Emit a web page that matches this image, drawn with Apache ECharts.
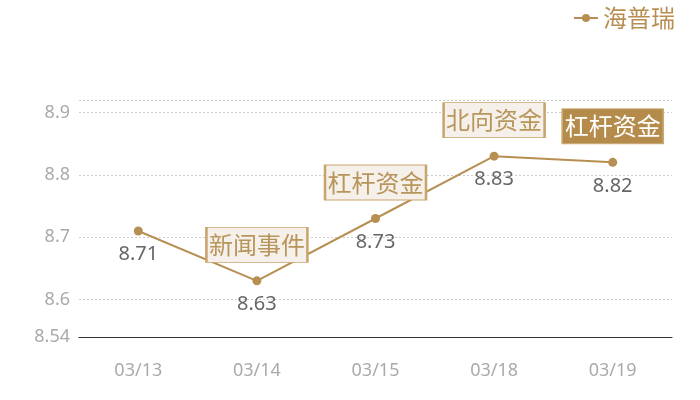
<!DOCTYPE html>
<html>
<head>
<meta charset="utf-8">
<script src="https://cdn.jsdelivr.net/npm/echarts@6/dist/echarts.min.js"></script>
<style>html,body{margin:0;padding:0;background:#fff}#c{width:700px;height:400px}</style>
</head>
<body>
<div id="c"></div>
<script>
const categories = ['03/13', '03/14', '03/15', '03/18', '03/19'];
const values = [8.71, 8.63, 8.73, 8.83, 8.82];
const annotations = ['', '新闻事件', '杠杆资金', '北向资金', '杠杆资金'];
const highlightIndex = 4;
const seriesName = '海普瑞';
const yMin = 8.54;
const yMax = 8.92;
const yTickLabels = [8.54, 8.6, 8.7, 8.8, 8.9];
const yGridValues = [8.6, 8.7, 8.8, 8.9, 8.92];

const gold = '#b88f52';
const font = '"Noto Sans", "Noto Sans CJK SC", sans-serif';
const cjkFont = '"Noto Sans CJK SC", "Noto Sans", sans-serif';

const markData = [];
annotations.forEach((txt, i) => {
  if (!txt) return;
  const hl = i === highlightIndex;
  markData.push({
    coord: [categories[i], values[i]],
    value: txt,
    itemStyle: hl ? { color: '#b58b4b', borderColor: '#c9a86f', borderWidth: 1 }
                  : { color: '#f5f0ea', borderColor: '#c9a46c', borderWidth: 1.5 },
    label: { color: hl ? '#ffffff' : '#b8955a' }
  });
});

const chart = echarts.init(document.getElementById('c'));
chart.setOption({
  backgroundColor: '#fff',
  animation: false,
  textStyle: { fontFamily: font },
  legend: {
    right: 20, top: 1,
    itemWidth: 24, itemHeight: 10, itemGap: 6,
    textStyle: { fontSize: 24, color: gold, fontFamily: cjkFont },
    data: [seriesName]
  },
  grid: { left: 79, right: 28, top: 100, bottom: 63 },
  xAxis: {
    type: 'category',
    data: categories,
    axisLine: { lineStyle: { color: '#333', width: 1.2 } },
    axisTick: { show: false },
    axisLabel: { color: '#aaa', fontSize: 18, margin: 25, fontFamily: font }
  },
  yAxis: {
    type: 'value',
    min: yMin, max: yMax,
    axisLine: { show: false },
    axisTick: { show: false, customValues: yGridValues },
    axisLabel: { color: '#aaa', fontSize: 18, margin: 9, customValues: yTickLabels, fontFamily: font },
    splitLine: { show: true, lineStyle: { color: '#ccc', type: [2, 2], width: 1 } }
  },
  series: [{
    name: seriesName,
    type: 'line',
    data: values,
    symbol: 'circle',
    symbolSize: 9,
    color: gold,
    lineStyle: { color: gold, width: 2 },
    itemStyle: { color: gold },
    label: { show: true, position: 'bottom', distance: 9, color: '#666', fontSize: 20, fontFamily: font },
    markPoint: {
      symbol: 'rect',
      symbolSize: [101, 35],
      symbolOffset: [0, -36],
      label: { show: true, position: 'inside', fontSize: 24, fontFamily: cjkFont, formatter: p => p.value },
      data: markData
    }
  }]
});
</script>
</body>
</html>
